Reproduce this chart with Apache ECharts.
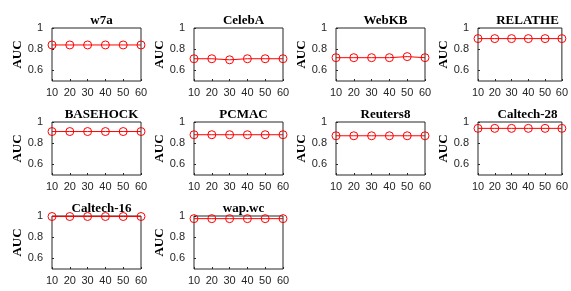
<!DOCTYPE html>
<html>
<head>
<meta charset="utf-8">
<script src="https://cdn.jsdelivr.net/npm/echarts@6/dist/echarts.min.js"></script>
<style>
  html, body { margin: 0; padding: 0; background: #fff; }
  #chart { width: 571px; height: 291px; }
</style>
</head>
<body>
<div id="chart"></div>
<script>
// number of selected features
const xValues = [10, 20, 30, 40, 50, 60];
const datasets = ['w7a', 'CelebA', 'WebKB', 'RELATHE', 'BASEHOCK', 'PCMAC', 'Reuters8', 'Caltech-28', 'Caltech-16', 'wap.wc'];
const w7a = [0.84, 0.84, 0.84, 0.84, 0.84, 0.84];
const celebA = [0.71, 0.71, 0.70, 0.71, 0.71, 0.71];
const webKB = [0.72, 0.72, 0.72, 0.72, 0.73, 0.72];
const relathe = [0.90, 0.90, 0.90, 0.90, 0.90, 0.90];
const basehock = [0.91, 0.91, 0.91, 0.91, 0.91, 0.91];
const pcmac = [0.88, 0.88, 0.88, 0.88, 0.88, 0.88];
const reuters8 = [0.87, 0.87, 0.87, 0.87, 0.87, 0.87];
const caltech28 = [0.94, 0.94, 0.94, 0.94, 0.94, 0.94];
const caltech16 = [0.995, 0.995, 0.995, 0.995, 0.995, 0.995];
const wapwc = [0.975, 0.975, 0.975, 0.975, 0.975, 0.975];
const yTicks = [0.6, 0.8, 1];

const allValues = [w7a, celebA, webKB, relathe, basehock, pcmac, reuters8, caltech28, caltech16, wapwc];

const chart = echarts.init(document.getElementById('chart'));
const axisColor = '#262626';
const lefts = [52, 194, 336, 478];
const tops = [28, 122, 216];
const w = 89, h = 53;

let grids = [], xAxes = [], yAxes = [], series = [], titles = [];
datasets.forEach(function (name, i) {
  const col = i % 4, row = Math.floor(i / 4);
  grids.push({
    left: lefts[col], top: tops[row], width: w, height: h,
    show: true, borderColor: axisColor, borderWidth: 1, backgroundColor: '#fff'
  });
  titles.push({
    text: name,
    left: lefts[col] + w / 2, top: tops[row] - 19,
    textAlign: 'center',
    textStyle: { fontFamily: 'Liberation Serif', fontWeight: 'bold', fontSize: 13, color: '#000' }
  });
  xAxes.push({
    gridIndex: i, type: 'value', min: 10, max: 60, interval: 10,
    axisLine: { show: false },
    axisTick: { inside: true, length: 2, lineStyle: { color: axisColor } },
    axisLabel: { margin: 6, fontFamily: 'Liberation Sans', fontSize: 11, color: axisColor },
    splitLine: { show: false }
  });
  yAxes.push({
    gridIndex: i, type: 'value', min: 0.5, max: 1,
    name: 'AUC', nameLocation: 'middle', nameGap: 27, nameRotate: 90,
    nameTextStyle: { fontFamily: 'Liberation Serif', fontWeight: 'bold', fontSize: 13, color: '#000' },
    axisLine: { show: false },
    axisTick: { inside: true, length: 2, customValues: yTicks, lineStyle: { color: axisColor } },
    axisLabel: {
      margin: 9, fontFamily: 'Liberation Sans', fontSize: 11, color: axisColor,
      customValues: yTicks,
      formatter: function (v) { return v === 1 ? '1' : String(v); }
    },
    splitLine: { show: false }
  });
  series.push({
    type: 'line', xAxisIndex: i, yAxisIndex: i,
    data: xValues.map(function (x, k) { return [x, allValues[i][k]]; }),
    symbol: 'circle', symbolSize: 8,
    lineStyle: { color: '#ff0000', width: 1 },
    itemStyle: { color: 'rgba(255,255,255,0)', borderColor: '#ff0000', borderWidth: 1 },
    emphasis: { disabled: true },
    clip: false,
    animation: false
  });
});

chart.setOption({
  animation: false,
  title: titles,
  grid: grids,
  xAxis: xAxes,
  yAxis: yAxes,
  series: series
});
</script>
</body>
</html>
